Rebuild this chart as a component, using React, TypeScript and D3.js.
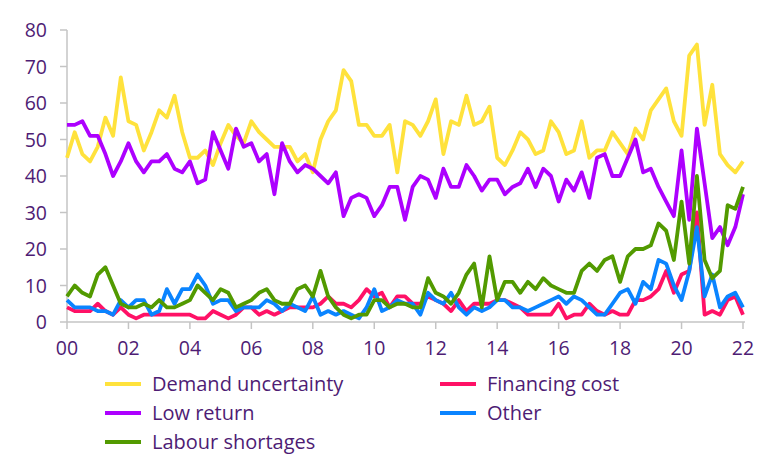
import React from 'react';
import * as d3 from 'd3';

// Quarterly survey shares (%), 2000 Q1 .. 2022 Q1
const demandUncertainty = [
  45, 52, 46, 44, 48, 56, 51, 67, 55, 54, 47, 52, 58, 56, 62, 52, 45, 45, 47, 43, 49,
  54, 51, 49, 55, 52, 50, 48, 48, 48, 44, 46, 41, 50, 55, 58, 69, 66, 54, 54, 51, 51, 54, 41, 55,
  54, 51, 55, 61, 46, 55, 54, 62, 54, 55, 59, 45, 43, 47, 52, 50, 46, 47, 55, 52, 46, 47, 55,
  45, 47, 47, 52, 49, 46, 53, 50, 58, 61, 64, 55, 51, 73, 76, 54, 65, 46, 43, 41, 44,
];
const financingCost = [
  4, 3, 3, 3, 5, 3, 2, 4, 2, 1, 2, 2, 2, 2, 2, 2, 2, 1, 1,
  3, 2, 1, 2, 4, 4, 2, 3, 2, 3, 4, 4, 4, 4, 5, 7, 5,
  5, 4, 6, 9, 7, 8, 4, 7, 7, 5, 5, 7, 6, 5, 3, 6, 3, 5,
  5, 5, 6, 6, 5, 4, 2, 2, 2, 2, 5, 1, 2, 2, 5, 3, 2, 3,
  2, 2, 6, 6, 7, 9, 14, 8, 13, 14, 30, 2, 3, 2, 6, 7, 2,
];
const lowReturn = [
  54, 54, 55, 51, 51, 46, 40, 44, 49, 44, 41, 44, 44, 46, 42, 41, 44, 38, 39, 52, 47, 42, 53,
  48, 49, 44, 46, 35, 49, 44, 41, 43, 42, 40, 38, 41, 29, 34, 35, 34, 29, 32, 37, 37, 28,
  37, 40, 39, 34, 42, 37, 37, 43, 40, 36, 39, 39, 35, 37, 38, 42, 37, 42, 40, 33, 39, 36, 41,
  34, 45, 46, 40, 40, 45, 50, 41, 42, 37, 33, 29, 47, 28, 53, 38, 23, 26, 21, 26, 35,
];
const other = [
  6, 4, 4, 4, 3, 3, 2, 6, 4, 6, 6, 2, 3, 9, 5, 9, 9, 13, 10,
  5, 6, 6, 3, 4, 4, 4, 6, 5, 3, 5, 4, 3, 7, 2, 3, 2,
  3, 2, 1, 4, 9, 3, 4, 6, 5, 5, 2, 8, 6, 5, 8, 4, 2, 4,
  3, 4, 6, 6, 4, 4, 3, 4, 5, 6, 7, 5, 7, 6, 4, 2, 2, 5,
  8, 9, 5, 11, 9, 17, 16, 10, 6, 14, 26, 7, 13, 4, 7, 8, 4,
];
const labourShortages = [
  7, 10, 8, 7, 13, 15, 10, 5, 4, 4, 5, 4, 6, 4, 4, 5, 6, 10, 8,
  6, 9, 8, 4, 5, 6, 8, 9, 6, 5, 5, 9, 10, 7, 14, 7, 4,
  2, 1, 2, 2, 6, 6, 4, 5, 5, 4, 4, 12, 8, 7, 5, 8, 13, 16,
  4, 18, 6, 11, 11, 8, 11, 9, 12, 10, 9, 8, 8, 14, 16, 14, 17, 18,
  11, 18, 20, 20, 21, 27, 25, 17, 33, 16, 40, 17, 12, 14, 32, 31, 37,
];

const yTicks = [0, 10, 20, 30, 40, 50, 60, 70, 80];
const xTicks = [2000, 2002, 2004, 2006, 2008, 2010, 2012, 2014, 2016, 2018, 2020, 2022];

const series = [
  { name: 'Demand uncertainty', values: demandUncertainty, color: '#ffe23c' },
  { name: 'Financing cost', values: financingCost, color: '#ff1166' },
  { name: 'Low return', values: lowReturn, color: '#ad00ff' },
  { name: 'Other', values: other, color: '#0a84ff' },
  { name: 'Labour shortages', values: labourShortages, color: '#529a00' },
];

const textColor = '#4e1c74';
const axisColor = '#c4c4c4';
const font = '"Open Sans", Lato, sans-serif';

export default function App() {
  const width = 768;
  const height = 472;

  const x = d3.scaleLinear().domain([2000, 2022]).range([67, 743]);
  const y = d3.scaleLinear().domain([0, 80]).range([322, 30]);

  const line = d3
    .line<number>()
    .x((_, i) => x(2000 + i / 4))
    .y((d) => y(d));

  // legend: two columns, three rows
  const legendX = [105, 440];
  const legendY = [384, 413, 442];

  return (
    <svg width={width} height={height} style={{ position: 'absolute', left: 0, top: 0 }}>
      {/* y axis */}
      <line x1={x(2000)} x2={x(2000)} y1={y(80)} y2={y(0)} stroke={axisColor} strokeWidth={1.5} />
      {yTicks.map((t) => (
        <g key={t}>
          <line x1={x(2000) - 7} x2={x(2000)} y1={y(t)} y2={y(t)} stroke={axisColor} strokeWidth={1.5} />
          <text
            x={47}
            y={y(t)}
            dy="0.36em"
            textAnchor="end"
            fontFamily={font}
            fontSize={19.5}
            fill={textColor}
          >
            {t}
          </text>
        </g>
      ))}

      {/* x axis */}
      <line x1={x(2000)} x2={x(2022) + 2} y1={y(0)} y2={y(0)} stroke={axisColor} strokeWidth={1.5} />
      {xTicks.map((t) => (
        <g key={t}>
          <line x1={x(t)} x2={x(t)} y1={y(0)} y2={y(0) + 7} stroke={axisColor} strokeWidth={1.5} />
          <text
            x={x(t)}
            y={355}
            textAnchor="middle"
            fontFamily={font}
            fontSize={19.5}
            fill={textColor}
          >
            {String(t % 100).padStart(2, '0')}
          </text>
        </g>
      ))}

      {/* lines */}
      {series.map((s) => (
        <path
          key={s.name}
          d={line(s.values) ?? ''}
          fill="none"
          stroke={s.color}
          strokeWidth={3.8}
          strokeLinejoin="round"
        />
      ))}

      {/* legend */}
      {series.map((s, i) => {
        const lx = legendX[i % 2];
        const ly = legendY[Math.floor(i / 2)];
        return (
          <g key={s.name}>
            <line x1={lx} x2={lx + 36} y1={ly} y2={ly} stroke={s.color} strokeWidth={3.8} />
            <text
              x={lx + 47}
              y={ly}
              dy="0.36em"
              fontFamily={font}
              fontSize={20}
              fill={textColor}
            >
              {s.name}
            </text>
          </g>
        );
      })}
    </svg>
  );
}
